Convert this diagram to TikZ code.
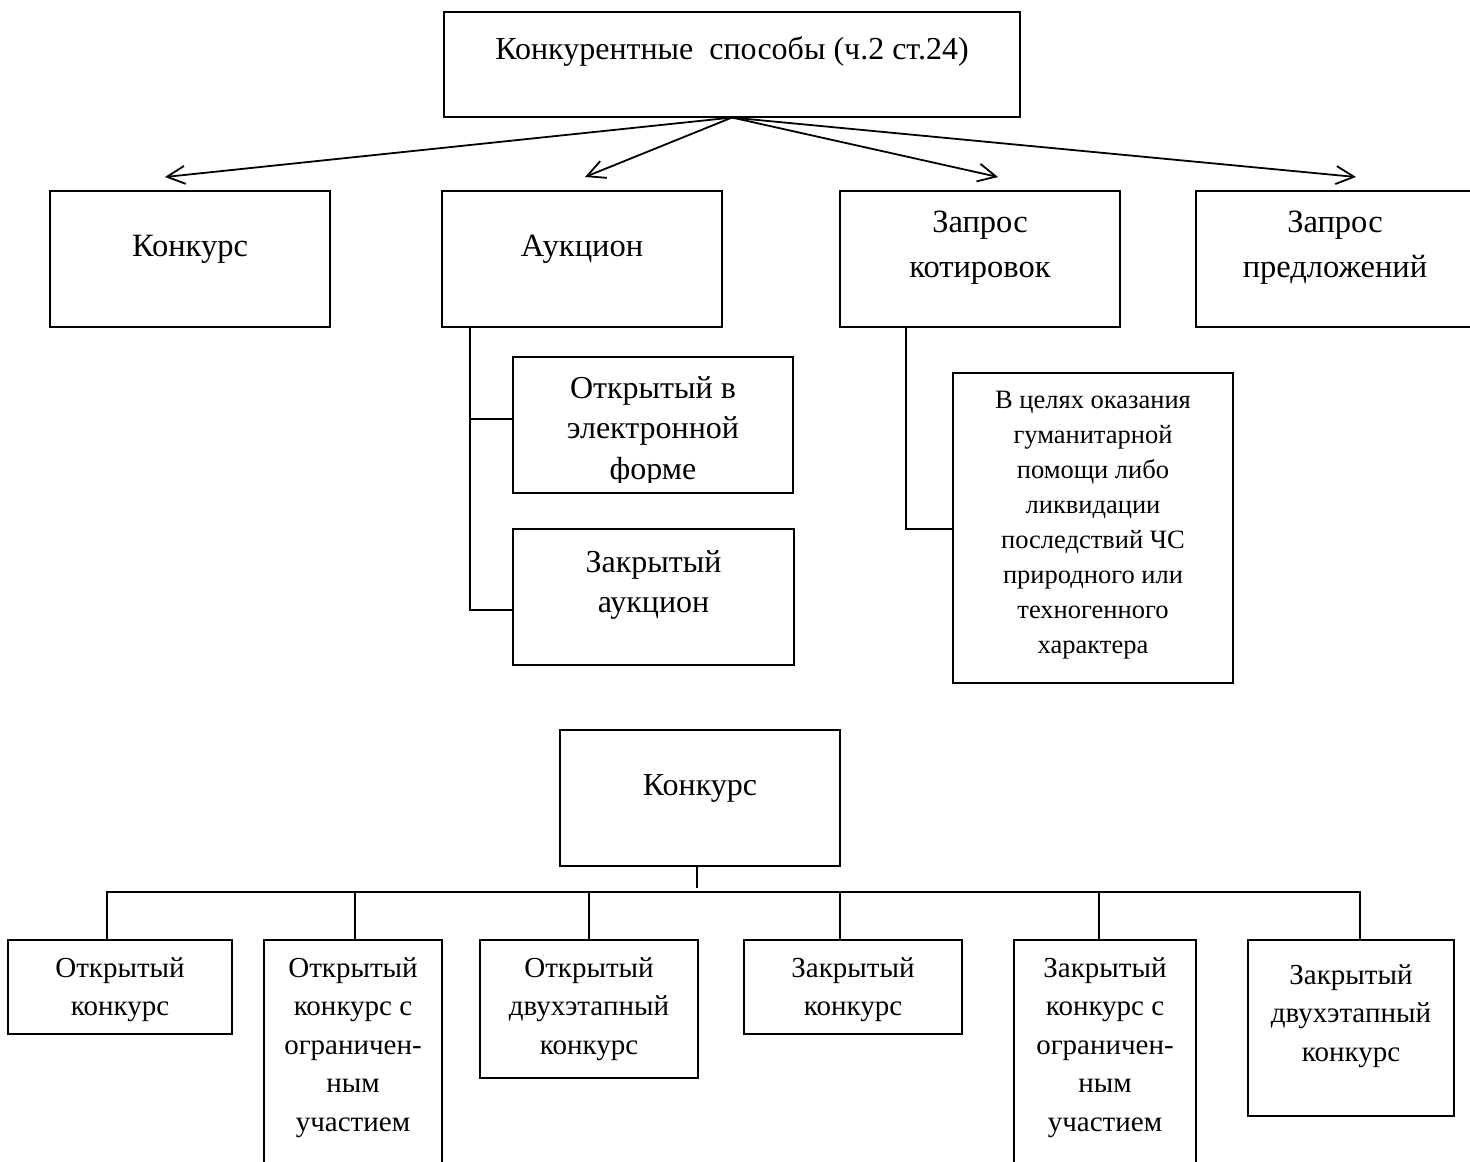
\documentclass[tikz,border=0pt]{standalone}
\usepackage{fontspec}
\setmainfont{Liberation Serif}
\usetikzlibrary{arrows.meta}
\newcommand\mkbox[5]{\node[box, minimum width={(#4)-(#2)}, minimum height={(#5)-(#3)}] (#1) at ({((#2)+(#4))/2},{((#3)+(#5))/2}) {};}
\newcommand\mylines[1]{\begin{tabular}[t]{@{}c@{}}#1\end{tabular}}
\begin{document}
\begin{tikzpicture}[x=1pt,y=-1pt,
  box/.style={draw, line width=1.1pt, inner sep=0pt, rectangle},
  txt/.style={inner sep=0pt, anchor=base},
  ttl/.style={font=\fontsize{32}{40}\selectfont},
  big/.style={font=\fontsize{32.5}{45}\selectfont},
  mid/.style={font=\fontsize{32}{40.5}\selectfont},
  sml/.style={font=\fontsize{26.5}{35}\selectfont},
  bot/.style={font=\fontsize{29}{38.5}\selectfont},
  conn/.style={line width=1.8pt, line join=miter},
  arr/.style={line width=1.8pt, -{Straight Barb[length=18pt,width=18pt,line width=1.8pt]}},
]
\useasboundingbox (0,0) rectangle (1470,1162);
\fill[white] (0,0) rectangle (1470,1162);

% boxes
\mkbox{top}{444}{12}{1020}{117}
\mkbox{r1}{50}{191}{330}{327}
\mkbox{r2}{442}{191}{722}{327}
\mkbox{r3}{840}{191}{1120}{327}
\mkbox{r4}{1196}{191}{1476}{327}
\mkbox{s1}{513}{357}{793}{493}
\mkbox{s2}{513}{529}{794}{665}
\mkbox{hum}{953}{373}{1233}{683}
\mkbox{k}{560}{730}{840}{866}
\mkbox{b1}{8}{940}{232}{1034}
\mkbox{b2}{264}{940}{442}{1175}
\mkbox{b3}{480}{940}{698}{1078}
\mkbox{b4}{744}{940}{962}{1034}
\mkbox{b5}{1014}{940}{1196}{1175}
\mkbox{b6}{1248}{940}{1454}{1116}

% texts (placed at the baseline of their first line)
\node[txt, ttl] (ttop) at (732,59) {Конкурентные\ \ способы (ч.2 ст.24)};
\node[txt, big] (tr1) at (190,256) {Конкурс};
\node[txt, big] (tr2) at (582,256) {Аукцион};
\node[txt, big] (tr3) at (980,232) {\mylines{Запрос\\котировок}};
\node[txt, big] (tr4) at (1335,232) {\mylines{Запрос\\предложений}};
\begin{scope}
\clip (513,357) rectangle (793,482);
\node[txt, mid] (ts1) at (653,398) {\mylines{Открытый в\\электронной\\форме}};
\end{scope}
\node[txt, mid] (ts2) at (653.5,572) {\mylines{Закрытый\\аукцион}};
\node[txt, sml] (thum) at (1093,408) {\mylines{В целях оказания\\гуманитарной\\помощи либо\\ликвидации\\последствий ЧС\\природного или\\техногенного\\характера}};
\node[txt, ttl] (tk) at (700,795) {Конкурс};
\node[txt, bot] (tb1) at (120,977) {\mylines{Открытый\\конкурс}};
\node[txt, bot] (tb2) at (353,977) {\mylines{Открытый\\конкурс с\\ограничен-\\ным\\участием}};
\node[txt, bot] (tb3) at (589,977) {\mylines{Открытый\\двухэтапный\\конкурс}};
\node[txt, bot] (tb4) at (853,977) {\mylines{Закрытый\\конкурс}};
\node[txt, bot] (tb5) at (1105,977) {\mylines{Закрытый\\конкурс с\\ограничен-\\ным\\участием}};
\node[txt, bot] (tb6) at (1351,984) {\mylines{Закрытый\\двухэтапный\\конкурс}};

% arrows from the top box
\coordinate (e1) at (165,177);
\coordinate (e2) at (585,177);
\coordinate (e3) at (998,177);
\coordinate (e4) at (1356,177);
\foreach \e in {e1,e2,e3,e4} \draw[arr] (top.south) -- (\e);

% auction branches
\coordinate (a0) at (470,327);
\coordinate (a1) at (470,419);
\coordinate (a2) at (470,610);
\draw[conn] (a0) -- (a2) -- (a2 -| s2.west);
\draw[conn] (a1) -- (a1 -| s1.west);

% quotations branch
\coordinate (q0) at (906,327);
\coordinate (q1) at (906,529);
\draw[conn] (q0) -- (q1) -- (q1 -| hum.west);

% competition tree
\coordinate (c0) at (697,866);
\coordinate (c1) at (697,888);
\draw[conn] (c0) -- (c1);
\coordinate (d1) at (107,892);
\coordinate (d2) at (355,892);
\coordinate (d3) at (589,892);
\coordinate (d4) at (840,892);
\coordinate (d5) at (1099,892);
\coordinate (d6) at (1360,892);
\draw[conn] (d1 |- b1.north) -- (d1) -- (d6) -- (d6 |- b6.north);
\draw[conn] (d2) -- (d2 |- b2.north);
\draw[conn] (d3) -- (d3 |- b3.north);
\draw[conn] (d4) -- (d4 |- b4.north);
\draw[conn] (d5) -- (d5 |- b5.north);
\end{tikzpicture}
\end{document}
